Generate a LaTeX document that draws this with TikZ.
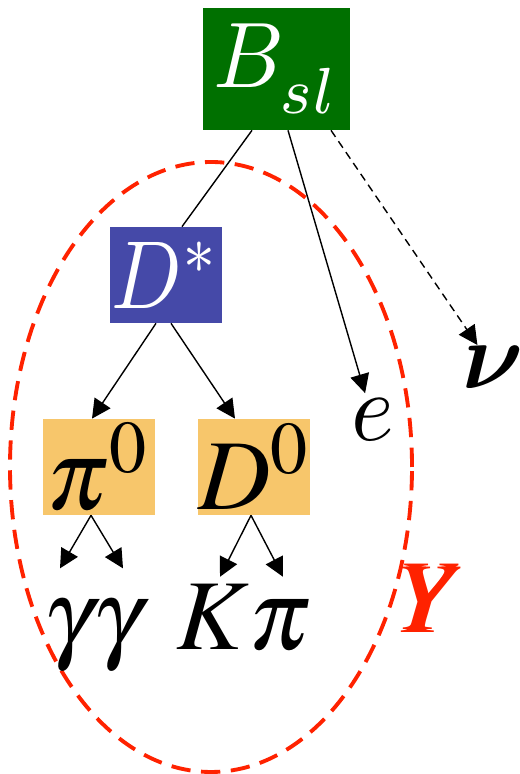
\documentclass[tikz,border=0pt]{standalone}
\usepackage{graphicx}
\usepackage{amsmath}
\usepackage{mathptmx}
\usepackage{bm}
\usetikzlibrary{positioning,arrows.meta}

% Computer Modern math for some of the symbols
\DeclareMathVersion{cmver}
\SetSymbolFont{operators}{cmver}{OT1}{cmr}{m}{n}
\SetSymbolFont{letters}{cmver}{OML}{cmm}{m}{it}
\SetSymbolFont{symbols}{cmver}{OMS}{cmsy}{m}{n}
\SetSymbolFont{largesymbols}{cmver}{OMX}{cmex}{m}{n}
\DeclareMathVersion{cmbold}
\SetSymbolFont{operators}{cmbold}{OT1}{cmr}{bx}{n}
\SetSymbolFont{letters}{cmbold}{OML}{cmm}{b}{it}
\SetSymbolFont{symbols}{cmbold}{OMS}{cmsy}{b}{n}
\SetSymbolFont{largesymbols}{cmbold}{OMX}{cmex}{m}{n}

\definecolor{bslgreen}{RGB}{0,112,0}
\definecolor{dstblue}{RGB}{69,73,168}
\definecolor{dzorange}{RGB}{247,198,107}
\definecolor{yred}{RGB}{255,34,0}

\newcommand{\bigsym}[2][5.7]{\scalebox{#1}{$#2$}}
\newcommand{\bigcm}[4]{\scalebox{#1}[#2]{\mathversion{#3}$#4$}}

\begin{document}
\begin{tikzpicture}[
    partbox/.style={text width=2.24cm, align=center, minimum height=1.92cm, inner sep=0pt},
    decay/.style={-{Triangle[length=3.8mm,width=3.8mm]}, line width=0.8pt},
    label/.style={anchor=base}
  ]
    \useasboundingbox (0,0) rectangle (10.4,15.48);

    % Define positions
    \coordinate (Bpos) at (5.53,14.10); % semileptonic B
    \coordinate (Dpos) at (3.32,9.98);  % D star
    \coordinate (Ycen) at (4.22,6.14);  % centre of the Y region

    % Draw the Y region
    \draw[yred, line width=2.2pt, dash pattern=on 11pt off 6pt]
        (Ycen) ellipse [x radius=4.02cm, y radius=6.1cm];

    % Draw boxes
    \node[fill=bslgreen, text=white, text width=2.94cm, align=center, minimum height=2.44cm, inner sep=0pt]
        (B) at (Bpos) {\bigcm{5.0}{5.3}{cmver}{B_{\raisebox{-1.3pt}{$\scriptstyle sl$}}}};
    \node[partbox, fill=dstblue, text=white] (Dst) at (Dpos) {\bigcm{4.7}{5.5}{cmver}{D^*}};
    \node[partbox, fill=dzorange] (pi) at (1.98,6.14) {\bigsym{\pi^0}};
    \node[partbox, fill=dzorange] (Dz) at (5.08,6.14) {\bigsym{D^0}};

    % Place final states
    \node[label] (e) at (7.46,6.66) {\bigcm{5.2}{5.5}{cmver}{e}};
    \node[label, inner sep=0pt] (nu) at (9.86,7.70) {\bigcm{5.4}{5.4}{cmbold}{\nu}};
    \node[label] (gg) at (1.86,2.48) {\bigsym{\gamma\gamma}};
    \node[label] (Kpi) at (4.88,2.48) {\bigsym{K\pi}};
    \node[label, text=yred] (Y) at (8.64,2.82) {\bigsym{\bm{Y}}};

    % B decay
    \draw[line width=0.8pt] ([xshift=-0.49cm]B.south) -- ([xshift=0.32cm]Dst.north);
    \draw[decay] ([xshift=0.23cm]B.south) -- (e);
    \draw[decay, dash pattern=on 4.5pt off 3pt, shorten >=1pt] ([xshift=1.09cm]B.south) -- (nu);

    % D star decay
    \draw[decay] ([xshift=-0.2cm]Dst.south) -- ([xshift=-0.14cm]pi.north);
    \draw[decay] ([xshift=0.1cm]Dst.south) -- ([xshift=-0.38cm]Dz.north);

    % pi0 and D0 decays
    \draw[decay] ([xshift=-0.16cm]pi.south) -- ([xshift=-0.66cm,yshift=0.52cm]gg.north);
    \draw[decay] ([xshift=-0.16cm]pi.south) -- ([xshift=0.6cm,yshift=0.52cm]gg.north);
    \draw[decay] ([xshift=-0.06cm]Dz.south) -- ([xshift=-0.48cm,yshift=0.04cm]Kpi.north);
    \draw[decay] ([xshift=-0.06cm]Dz.south) -- ([xshift=0.78cm,yshift=0.04cm]Kpi.north);

\end{tikzpicture}
\end{document}
